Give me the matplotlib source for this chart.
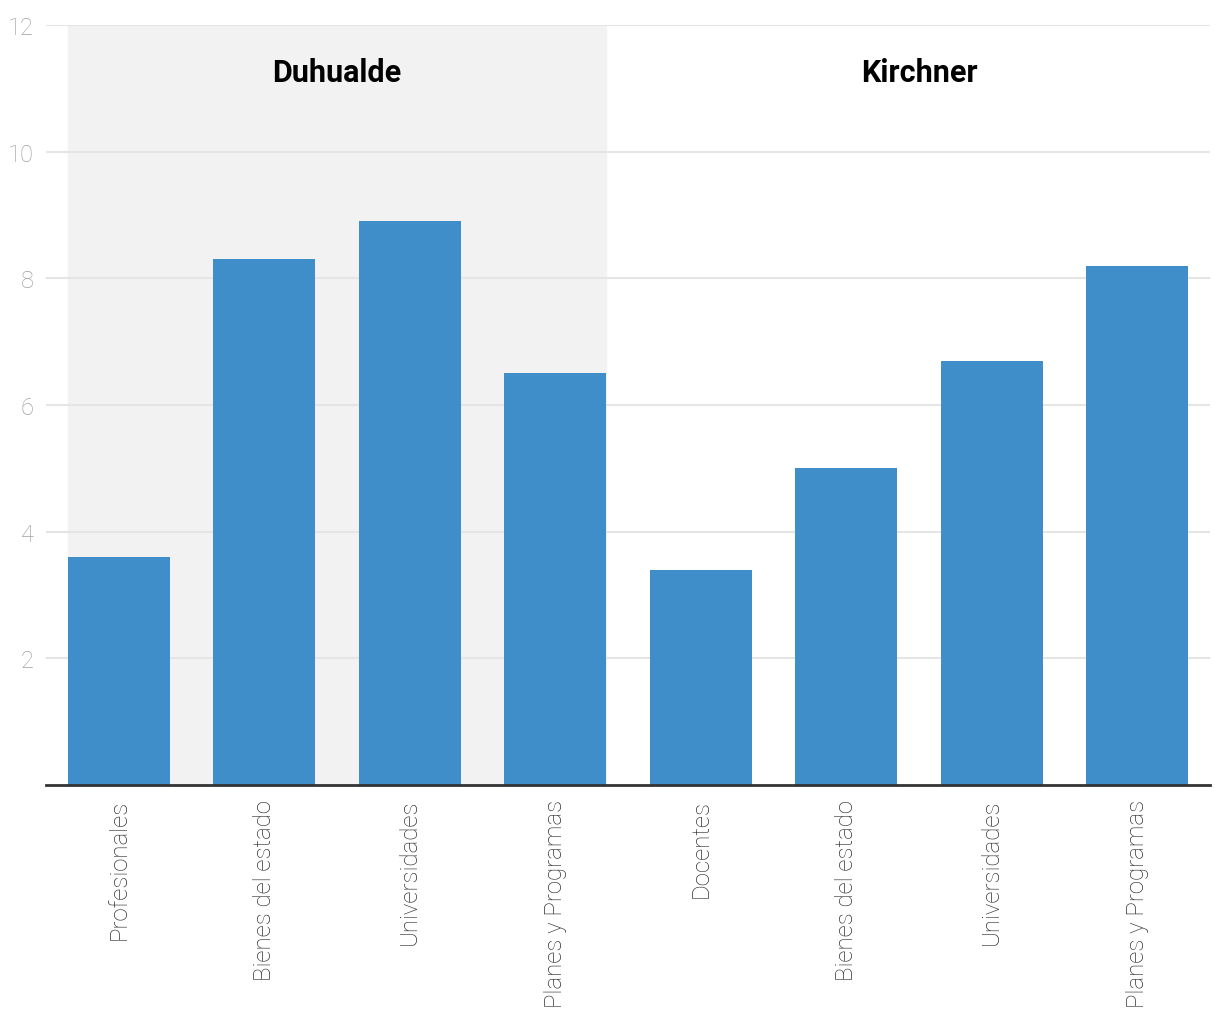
import matplotlib.pyplot as plt

categories = ["Profesionales", "Bienes del estado", "Universidades", "Planes y Programas",
              "Docentes", "Bienes del estado", "Universidades", "Planes y Programas"]
values = [3.6, 8.3, 8.9, 6.5, 3.4, 5.0, 6.7, 8.2]
groups = ["Duhualde", "Kirchner"]
yticks = [2, 4, 6, 8, 10, 12]

plt.rcParams['font.family'] = ['Roboto', 'DejaVu Sans']

fig = plt.figure(figsize=(12.2, 10.2), dpi=100)
ax = fig.add_axes([46 / 1220, 234 / 1020, 1164 / 1220, 760 / 1020])

x = list(range(len(values)))
w = 0.7
ax.axvspan(-w / 2, 3 + w / 2, color="#f2f2f2", zorder=0)
ax.bar(x, values, width=w, color="#3f8ec9", zorder=3)

ax.set_xlim(-0.5, 7.5)
ax.set_ylim(0, 12)
ax.set_yticks(yticks)
ax.set_yticklabels([str(t) for t in yticks], color="#a0a0a0", fontsize=17, fontweight="light")
ax.yaxis.grid(True, color="#e5e5e5", linewidth=1.5, zorder=1)
ax.set_axisbelow(True)
ax.tick_params(axis="y", length=0, pad=9)

ax.set_xticks(x)
ax.set_xticklabels(categories, rotation=90, fontsize=17.3, color="#333333", fontweight="light")
ax.tick_params(axis="x", length=0, pad=10)

for s in ["top", "right", "left"]:
    ax.spines[s].set_visible(False)
ax.spines["bottom"].set_color("#333333")
ax.spines["bottom"].set_linewidth(2)
ax.spines["bottom"].set_zorder(4)

ax.text(1.5, 11.25, groups[0], ha="center", va="center", fontsize=22, fontweight="bold", color="black")
ax.text(5.5, 11.25, groups[1], ha="center", va="center", fontsize=22, fontweight="bold", color="black")

fig.savefig("out.png", dpi=100)
